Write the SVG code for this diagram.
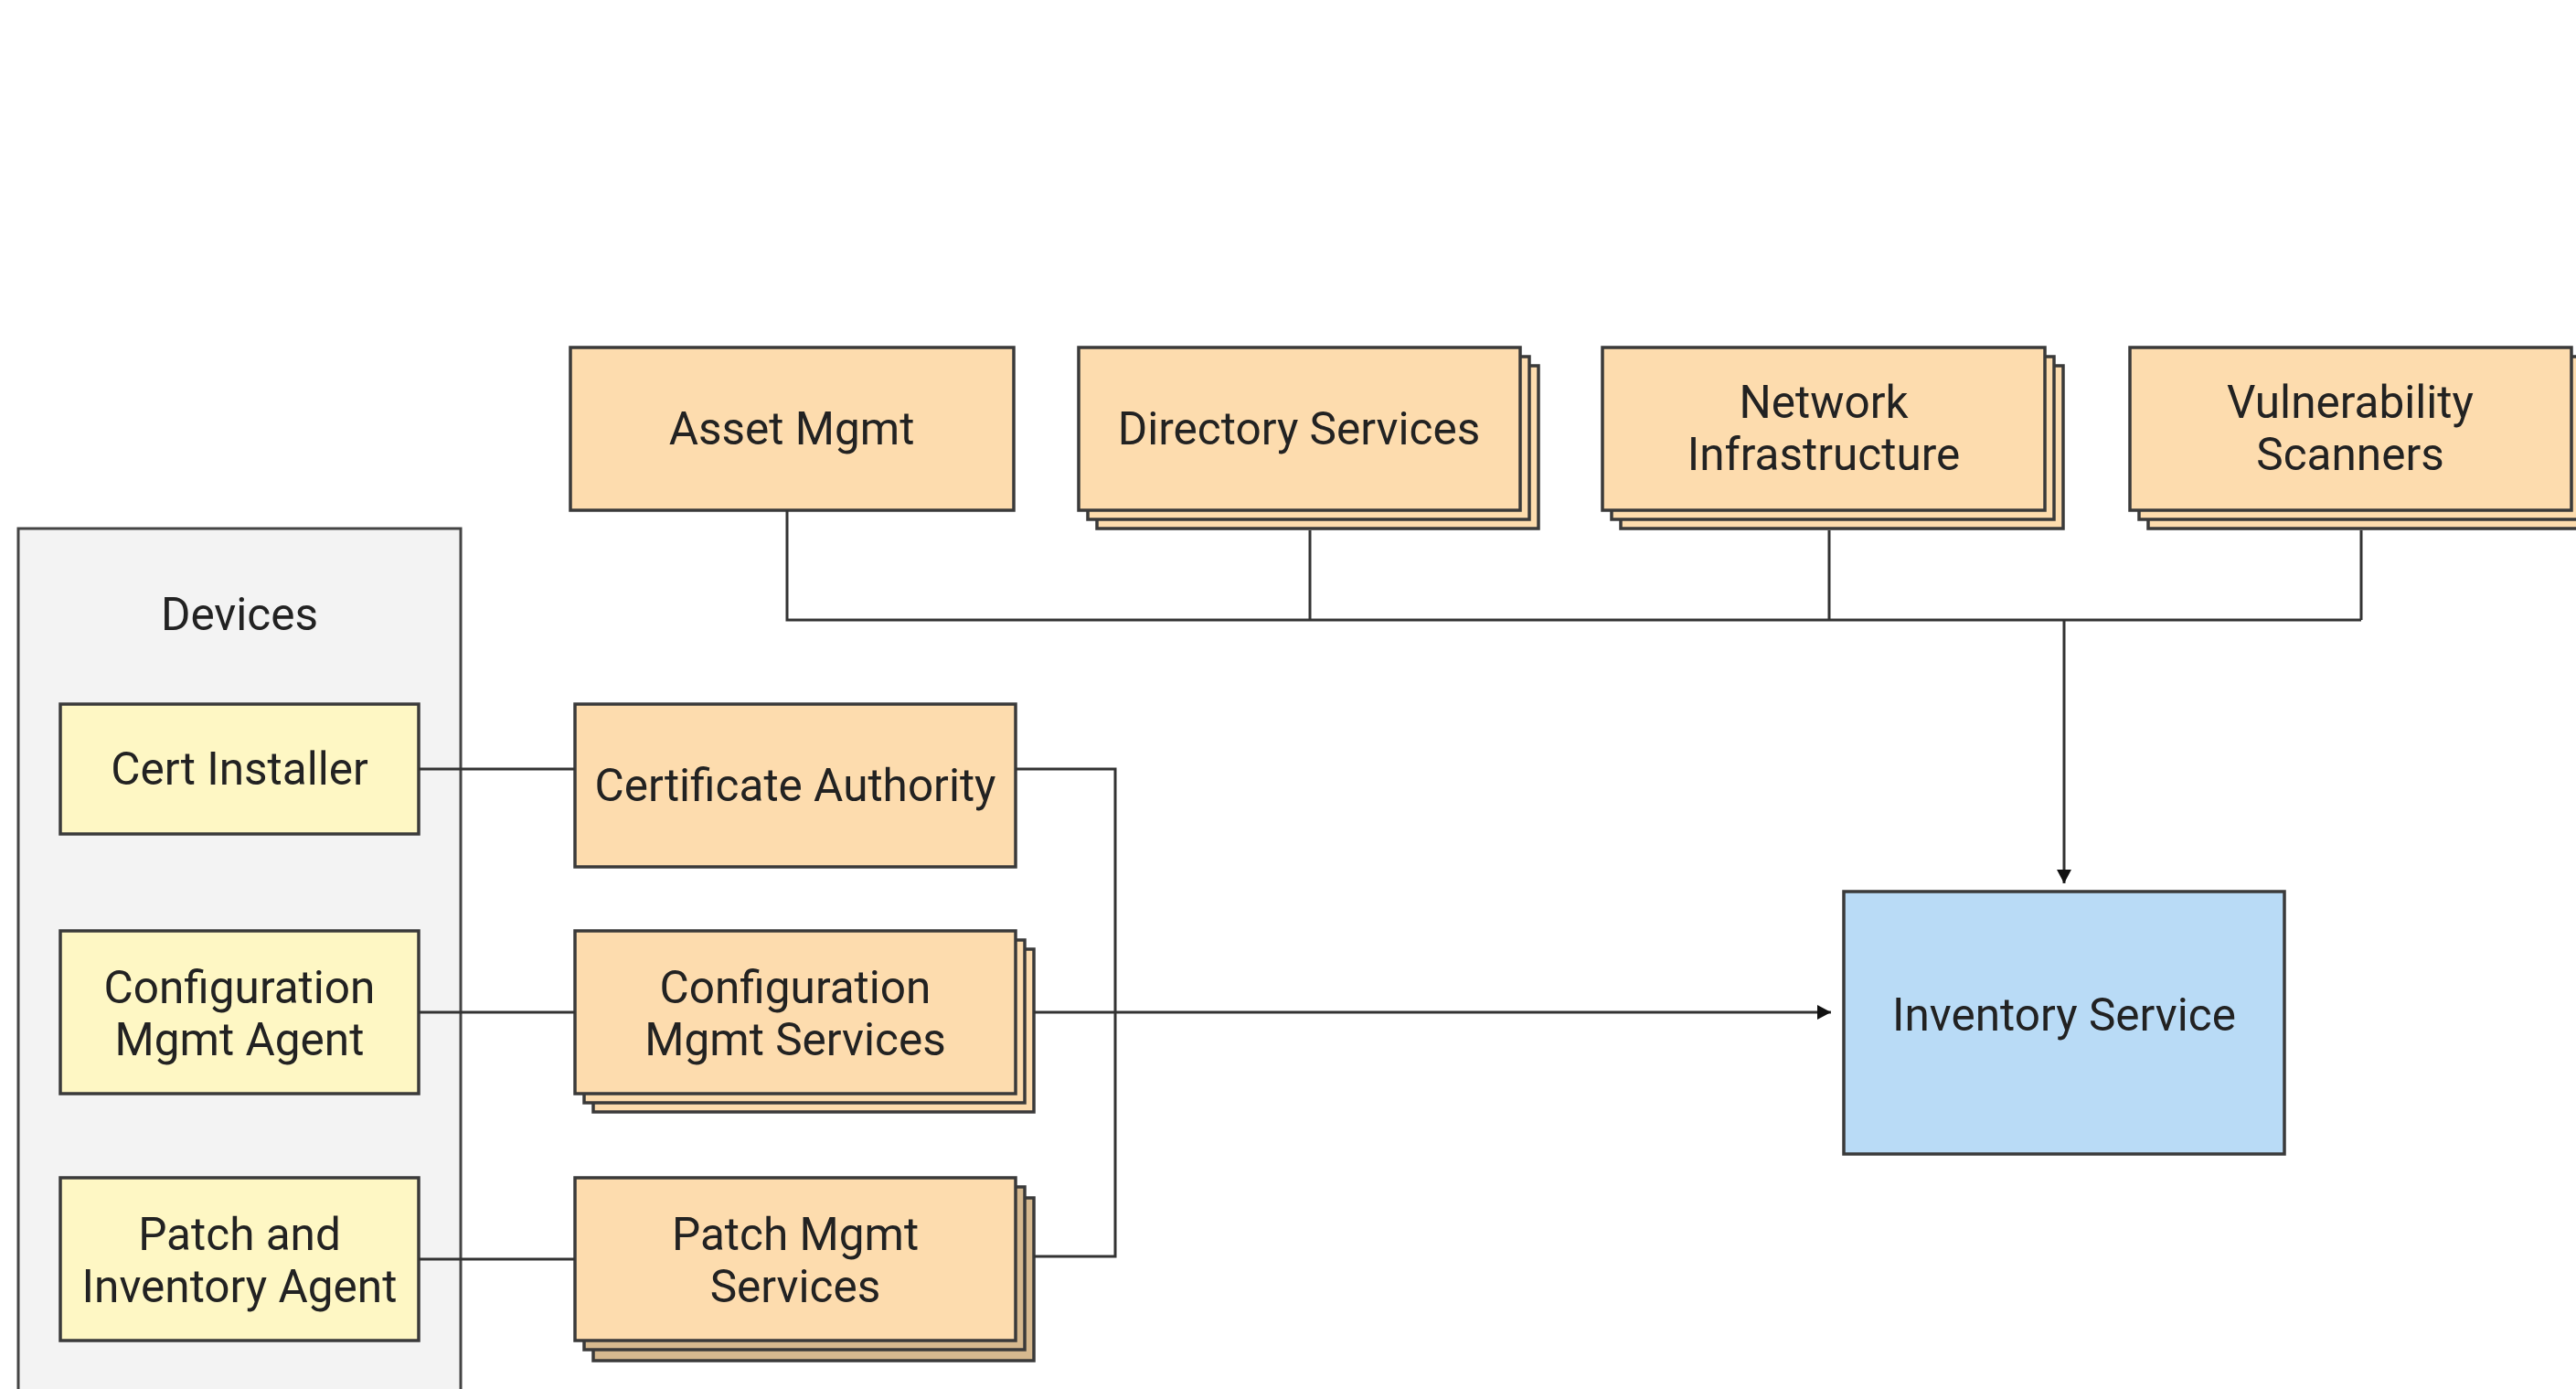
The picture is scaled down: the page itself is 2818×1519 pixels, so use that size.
<svg xmlns="http://www.w3.org/2000/svg" width="2818" height="1519" viewBox="0 0 2818 1519">
<defs>
<style>
.box{stroke:#3a3a3a;stroke-width:3.5}
.org{fill:#fddcae}
.back{fill:#fddcae}
.backd{fill:#d6b98f}
.yel{fill:#fef7c4}
.blu{fill:#b9dbf6}
.grp{fill:#f3f3f3;stroke:#444;stroke-width:3}
.t{font-family:Roboto,"Liberation Sans",sans-serif;font-size:49.5px;fill:#222;text-anchor:middle}
.ln{fill:none;stroke:#333;stroke-width:3}
</style>
<marker id="arrB" markerWidth="22" markerHeight="16" refX="15" refY="8" markerUnits="userSpaceOnUse" orient="auto">
<path d="M0,0 L15,8 L0,16 z" fill="#111"/>
</marker>
</defs>
<rect width="2818" height="1519" fill="#ffffff"/>

<g id="devices">
<rect class="grp" x="20" y="578" width="484" height="950"/>
<text class="t" x="262" y="689">Devices</text>
</g>

<g id="asset-mgmt">
<rect class="box org" x="624" y="380" width="485" height="178"/>
<text class="t" x="866" y="486">Asset Mgmt</text>
</g>

<g id="directory-services">
<rect class="box back" x="1200" y="400" width="483" height="178"/>
<rect class="box back" x="1190" y="390" width="483" height="178"/>
<rect class="box org" x="1180" y="380" width="483" height="178"/>
<text class="t" x="1421" y="486">Directory Services</text>
</g>

<g id="network-infrastructure">
<rect class="box back" x="1773" y="400" width="484" height="178"/>
<rect class="box back" x="1763" y="390" width="484" height="178"/>
<rect class="box org" x="1753" y="380" width="484" height="178"/>
<text class="t" x="1995" y="457">Network</text>
<text class="t" x="1995" y="514">Infrastructure</text>
</g>

<g id="vulnerability-scanners">
<rect class="box back" x="2350" y="400" width="483" height="178"/>
<rect class="box back" x="2340" y="390" width="483" height="178"/>
<rect class="box org" x="2330" y="380" width="483" height="178"/>
<text class="t" x="2571" y="457">Vulnerability</text>
<text class="t" x="2571" y="514">Scanners</text>
</g>

<g id="cert-installer">
<rect class="box yel" x="66" y="770" width="392" height="142"/>
<text class="t" x="262" y="858">Cert Installer</text>
</g>

<g id="config-mgmt-agent">
<rect class="box yel" x="66" y="1018" width="392" height="178"/>
<text class="t" x="262" y="1097">Configuration</text>
<text class="t" x="262" y="1154">Mgmt Agent</text>
</g>

<g id="patch-inventory-agent">
<rect class="box yel" x="66" y="1288" width="392" height="178"/>
<text class="t" x="262" y="1367">Patch and</text>
<text class="t" x="262" y="1424">Inventory Agent</text>
</g>

<g id="certificate-authority">
<rect class="box org" x="629" y="770" width="482" height="178"/>
<text class="t" x="870" y="876">Certificate Authority</text>
</g>

<g id="config-mgmt-services">
<rect class="box back" x="649" y="1038" width="482" height="178"/>
<rect class="box back" x="639" y="1028" width="482" height="178"/>
<rect class="box org" x="629" y="1018" width="482" height="178"/>
<text class="t" x="870" y="1097">Configuration</text>
<text class="t" x="870" y="1154">Mgmt Services</text>
</g>

<g id="patch-mgmt-services">
<rect class="box backd" x="649" y="1310" width="482" height="178"/>
<rect class="box backd" x="639" y="1298" width="482" height="178"/>
<rect class="box org" x="629" y="1288" width="482" height="178"/>
<text class="t" x="870" y="1367">Patch Mgmt</text>
<text class="t" x="870" y="1424">Services</text>
</g>

<g id="inventory-service">
<rect class="box blu" x="2017" y="975" width="482" height="287"/>
<text class="t" x="2258" y="1127">Inventory Service</text>
</g>

<g id="connectors">
<polyline class="ln" points="861,558 861,678 2583,678"/>
<line class="ln" x1="1433" y1="580" x2="1433" y2="678"/>
<line class="ln" x1="2001" y1="580" x2="2001" y2="678"/>
<line class="ln" x1="2583" y1="580" x2="2583" y2="678"/>
<line class="ln" x1="2258" y1="678" x2="2258" y2="966" marker-end="url(#arrB)"/>
<line class="ln" x1="458" y1="841" x2="629" y2="841"/>
<line class="ln" x1="458" y1="1107" x2="629" y2="1107"/>
<line class="ln" x1="458" y1="1377" x2="629" y2="1377"/>
<polyline class="ln" points="1111,841 1220,841 1220,1374 1131,1374"/>
<line class="ln" x1="1131" y1="1107" x2="2003" y2="1107" stroke-width="4" marker-end="url(#arrB)"/>
</g>
</svg>
